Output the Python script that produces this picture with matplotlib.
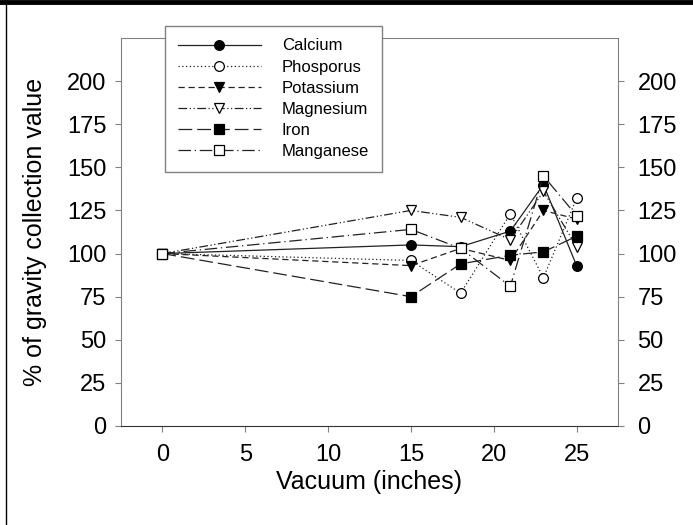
import matplotlib.pyplot as plt
from matplotlib.lines import Line2D

plt.rcParams['font.family'] = ['Liberation Sans', 'DejaVu Sans']

# vacuum levels (inches)
vac = [0, 15, 18, 21, 23, 25]

# % of gravity collection value
calcium = [100, 105, 104, 113, 140, 93]
phosporus = [100, 96, 77, 123, 86, 132]
potassium = [100, 93, 103, 96, 125, 120]
magnesium = [100, 125, 121, 108, 136, 104]
iron = [100, 75, 94, 99, 101, 110]
manganese = [100, 114, 103, 81, 145, 122]

names = ['Calcium', 'Phosporus', 'Potassium', 'Magnesium', 'Iron', 'Manganese']
series = [calcium, phosporus, potassium, magnesium, iron, manganese]
markers = ['o', 'o', 'v', 'v', 's', 's']
faces = ['black', 'white', 'black', 'white', 'black', 'white']
styles = ['-', (0, (1, 2)), (0, (5, 3)), (0, (7, 2, 1, 2, 1, 2)), (0, (11, 4)), (0, (10, 3, 1, 3))]

yticks = [0, 25, 50, 75, 100, 125, 150, 175, 200]
xticks = [0, 5, 10, 15, 20, 25]

fig = plt.figure(figsize=(6.93, 5.25), dpi=100)
ax = fig.add_axes([121 / 693, 1 - 426 / 525, (618 - 121) / 693, (426 - 38) / 525])

for y, nm, mk, fc, ls in zip(series, names, markers, faces, styles):
    ax.plot(vac, y, linestyle=ls, color='#222222', linewidth=0.9,
            marker=mk, markersize=7, markerfacecolor=fc, markeredgecolor='black',
            markeredgewidth=0.9, label=nm)

ax.set_xlim(-2.5, 27.5)
ax.set_ylim(0, 225)
ax.set_xticks(xticks)
ax.set_yticks(yticks)

for s in ['left', 'top', 'right']:
    ax.spines[s].set_color('#808080')
ax.spines['bottom'].set_color('#333333')

ax.tick_params(axis='both', direction='out', length=4, labelsize=17, color='#808080')
ax.tick_params(axis='x', pad=9)
ax.tick_params(axis='y', pad=6.5)

# right hand axis with its own labels
ax2 = ax.twinx()
ax2.set_ylim(0, 225)
ax2.set_yticks(yticks)
ax2.tick_params(axis='y', direction='out', length=4, labelsize=17, color='#808080', pad=10)
for s in ax2.spines.values():
    s.set_visible(False)

ax.set_xlabel('Vacuum (inches)', fontsize=18, labelpad=3)
ax.set_ylabel('% of gravity collection value', fontsize=18, labelpad=14)

leg = ax2.legend(*ax.get_legend_handles_labels(), loc='upper left',
                 bbox_to_anchor=(165 / 693, 1 - 26 / 525),
                 bbox_transform=fig.transFigure, borderaxespad=0, fontsize=12,
                 handlelength=5.0, handletextpad=1.26, labelspacing=0.37,
                 fancybox=False, framealpha=1, edgecolor='#808080', borderpad=0.75)
leg.get_frame().set_linewidth(1)

# figure frame
fig.add_artist(Line2D([0, 1], [0.996, 0.996], transform=fig.transFigure, color='black', linewidth=3.5))
fig.add_artist(Line2D([6 / 693, 6 / 693], [0, 1], transform=fig.transFigure, color='black', linewidth=1))

fig.savefig('out.png', dpi=100)
